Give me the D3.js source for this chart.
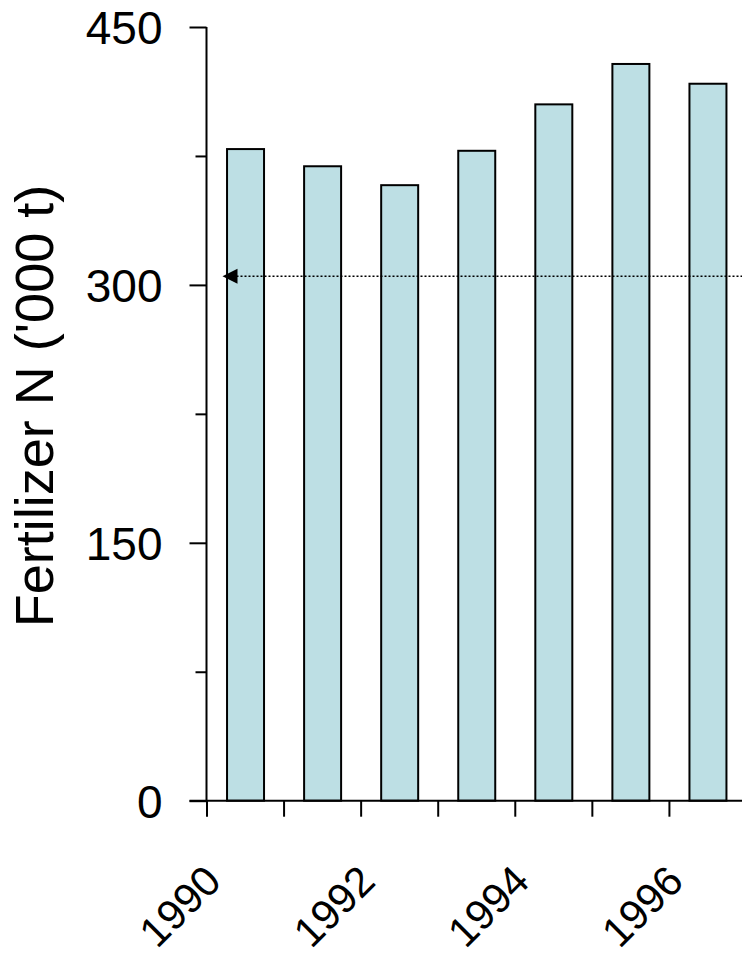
<!DOCTYPE html>
<html>
<head>
<meta charset="utf-8">
<script src="https://cdn.jsdelivr.net/npm/d3@7"></script>
<style>
  html, body { margin: 0; padding: 0; background: #ffffff; }
  svg { display: block; }
  text { font-family: "Liberation Sans", Arial, sans-serif; fill: #000; }
</style>
</head>
<body>
<svg id="chart" width="742" height="961"></svg>
<script>
// ---- data ----
const years = [1990, 1991, 1992, 1993, 1994, 1995, 1996];
const fertilizerN = [379, 369, 358, 378, 405, 428.5, 417];
const yMajorTicks = [0, 150, 300, 450];
const yMinorTicks = [75, 225, 375];
const xLabelYears = [1990, 1992, 1994, 1996];
const refValue = [305];
const yTitle = "Fertilizer N ('000 t)";

// ---- layout ----
const W = 742, H = 961;
const axisX = 206.5, axisY = 800.7, topY = 27;
const step = 77.07;

const svg = d3.select("#chart");

const y = d3.scaleLinear().domain([0, 450]).range([axisY, topY]);
const xl = d3.scaleLinear().domain([1990, 1997]).range([axisX, axisX + 7 * step]);
const xb = d3.scaleBand().domain(years).range([axisX, axisX + 7 * step]).paddingInner(0).paddingOuter(0);
const barW = xb.bandwidth() * 0.48;

// bars
svg.append("g").selectAll("rect")
  .data(years.map((yr, i) => ({ yr, v: fertilizerN[i] })))
  .join("rect")
  .attr("x", d => xb(d.yr) + (xb.bandwidth() - barW) / 2 + 0.5)
  .attr("y", d => y(d.v))
  .attr("width", barW)
  .attr("height", d => y(0) - y(d.v))
  .attr("fill", "#bddfe4")
  .attr("stroke", "#000")
  .attr("stroke-width", 2);

// reference dotted line with arrow
const refG = svg.append("g");
refValue.forEach(v => {
  const x0 = axisX + 16;
  refG.append("line")
    .attr("x1", x0 + 10).attr("x2", W)
    .attr("y1", y(v)).attr("y2", y(v))
    .attr("stroke", "#000").attr("stroke-width", 1.5)
    .attr("stroke-dasharray", "2,2");
  refG.append("path")
    .attr("d", `M${x0},${y(v)} L${x0 + 15},${y(v) - 7.5} L${x0 + 15},${y(v) + 7.5} Z`)
    .attr("fill", "#000");
});

// y axis major
const yAxis = svg.append("g")
  .attr("transform", `translate(${axisX},0)`)
  .call(d3.axisLeft(y).tickValues(yMajorTicks).tickSize(17).tickPadding(27).tickFormat(d3.format("d")));
yAxis.select(".domain").attr("stroke", "#000").attr("stroke-width", 2).attr("d", `M0,${axisY}V${topY}`);
yAxis.selectAll(".tick line").attr("stroke", "#000").attr("stroke-width", 2);
yAxis.selectAll(".tick text").attr("font-size", 46).attr("font-family", '"Liberation Sans", Arial, sans-serif').attr("dy", "0.36em");

// y axis minor
const yMinor = svg.append("g")
  .attr("transform", `translate(${axisX},0)`)
  .call(d3.axisLeft(y).tickValues(yMinorTicks).tickSize(11).tickFormat(""));
yMinor.select(".domain").remove();
yMinor.selectAll(".tick line").attr("stroke", "#000").attr("stroke-width", 2);

// x axis
const xAxis = svg.append("g")
  .attr("transform", `translate(0,${axisY})`)
  .call(d3.axisBottom(xl).tickValues(d3.range(1990, 1998)).tickSize(16).tickFormat(""));
xAxis.select(".domain").attr("stroke", "#000").attr("stroke-width", 2).attr("d", `M${axisX - 17},0H${W}`);
xAxis.selectAll(".tick line").attr("stroke", "#000").attr("stroke-width", 2);

// x labels rotated
svg.append("g").selectAll("text")
  .data(xLabelYears)
  .join("text")
  .attr("transform", d => `translate(${xl(d) + 6},${axisY + 72}) rotate(-45)`)
  .attr("text-anchor", "end")
  .attr("dy", "0.36em")
  .attr("font-size", 42)
  .text(d => d);

// y title
svg.append("text")
  .attr("transform", `translate(53,406) rotate(-90)`)
  .attr("text-anchor", "middle")
  .attr("font-size", 54)
  .text(yTitle);
</script>
</body>
</html>
